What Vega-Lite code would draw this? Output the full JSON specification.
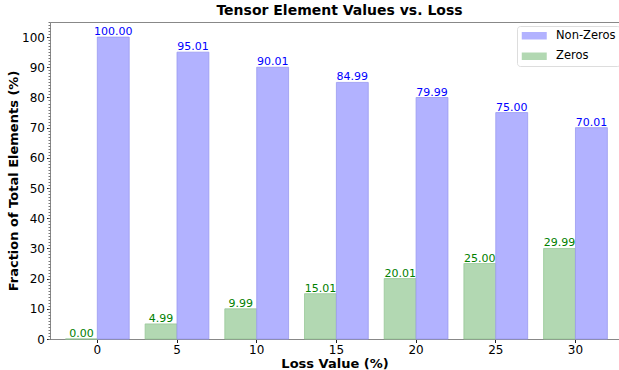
{
  "$schema": "https://vega.github.io/schema/vega-lite/v6.json",
  "width": 569,
  "height": 317,
  "autosize": "none",
  "padding": {"left": 50, "top": 22, "right": 0, "bottom": 31},
  "background": "white",
  "title": {"text": "Tensor Element Values vs. Loss", "font": "DejaVu Sans", "fontSize": 14, "fontWeight": "bold", "color": "black", "offset": 4, "dx": 5},
  "data": {"values": [
    {"loss": 0, "series": "Zeros", "value": 0.00},
    {"loss": 5, "series": "Zeros", "value": 4.99},
    {"loss": 10, "series": "Zeros", "value": 9.99},
    {"loss": 15, "series": "Zeros", "value": 15.01},
    {"loss": 20, "series": "Zeros", "value": 20.01},
    {"loss": 25, "series": "Zeros", "value": 25.00},
    {"loss": 30, "series": "Zeros", "value": 29.99},
    {"loss": 0, "series": "Non-Zeros", "value": 100.00},
    {"loss": 5, "series": "Non-Zeros", "value": 95.01},
    {"loss": 10, "series": "Non-Zeros", "value": 90.01},
    {"loss": 15, "series": "Non-Zeros", "value": 84.99},
    {"loss": 20, "series": "Non-Zeros", "value": 79.99},
    {"loss": 25, "series": "Non-Zeros", "value": 75.00},
    {"loss": 30, "series": "Non-Zeros", "value": 70.01}
  ]},
  "layer": [
    {
      "mark": {"type": "bar", "strokeWidth": 0.8},
      "encoding": {
        "x": {"field": "loss", "type": "ordinal", "scale": {"paddingInner": 0.2, "paddingOuter": 0.17, "align": 0.57},
          "axis": {"orient": "bottom", "labelAngle": 0, "title": "Loss Value (%)", "titleFont": "DejaVu Sans", "titleFontSize": 13, "titleFontWeight": "bold", "titleColor": "black", "titlePadding": 2, "labelFont": "DejaVu Sans", "labelFontSize": 12, "labelColor": "black", "labelPadding": 2, "tickSize": 3.5, "tickColor": "#222", "domainColor": "#888", "grid": false}},
        "xOffset": {"field": "series", "scale": {"domain": ["Zeros", "Non-Zeros"], "paddingInner": 0, "paddingOuter": 0}},
        "y": {"field": "value", "type": "quantitative", "scale": {"domain": [0, 105], "nice": false},
          "axis": {"orient": "left", "values": [0, 10, 20, 30, 40, 50, 60, 70, 80, 90, 100], "title": "Fraction of Total Elements (%)", "titleFont": "DejaVu Sans", "titleFontSize": 13, "titleFontWeight": "bold", "titleColor": "black", "titlePadding": 1, "labelFont": "DejaVu Sans", "labelFontSize": 12, "labelColor": "black", "labelPadding": 2, "tickSize": 3.5, "tickColor": "#222", "domainColor": "#888", "grid": false}},
        "color": {"field": "series", "type": "nominal", "scale": {"domain": ["Non-Zeros", "Zeros"], "range": ["#b2b2ff", "#b2d8b2"]},
          "legend": {"title": null, "orient": "none", "legendX": 467, "legendY": 4, "padding": 4, "strokeColor": "#dddddd", "fillColor": "white", "cornerRadius": 3, "labelFont": "DejaVu Sans", "labelFontSize": 11.5, "labelColor": "black", "labelOffset": 16, "rowPadding": 7.5, "symbolOffset": 7.5, "symbolType": "M-2.5,-0.75H2.5V0.75H-2.5Z", "symbolSize": 100, "symbolStrokeWidth": 0}},
        "stroke": {"field": "series", "type": "nominal", "scale": {"domain": ["Non-Zeros", "Zeros"], "range": ["#9a9af0", "#98c898"]}, "legend": null}
      }
    },
    {
      "mark": {"type": "text", "baseline": "alphabetic", "dy": -2, "font": "DejaVu Sans", "fontSize": 11},
      "encoding": {
        "x": {"field": "loss", "type": "ordinal", "axis": {"orient": "top", "labels": false, "ticks": false, "title": null, "domain": true, "domainColor": "#888", "grid": false}},
        "xOffset": {"field": "series", "scale": {"domain": ["Zeros", "Non-Zeros"], "paddingInner": 0, "paddingOuter": 0}},
        "y": {"field": "value", "type": "quantitative", "axis": {"orient": "left", "values": [0,1,2,3,4,5,6,7,8,9,10,11,12,13,14,15,16,17,18,19,20,21,22,23,24,25,26,27,28,29,30,31,32,33,34,35,36,37,38,39,40,41,42,43,44,45,46,47,48,49,50,51,52,53,54,55,56,57,58,59,60,61,62,63,64,65,66,67,68,69,70,71,72,73,74,75,76,77,78,79,80,81,82,83,84,85,86,87,88,89,90,91,92,93,94,95,96,97,98,99,100,101,102,103,104,105], "labels": false, "domain": false, "title": null, "tickSize": 2, "tickColor": "#777", "grid": false}},
        "text": {"field": "value", "type": "quantitative", "format": ".2f"},
        "color": {"field": "series", "type": "nominal", "scale": {"domain": ["Non-Zeros", "Zeros"], "range": ["#0000ff", "#008000"]}, "legend": null}
      }
    }
  ],
  "resolve": {"scale": {"color": "independent"}, "axis": {"x": "independent", "y": "independent"}},
  "config": {"view": {"stroke": null}}
}
